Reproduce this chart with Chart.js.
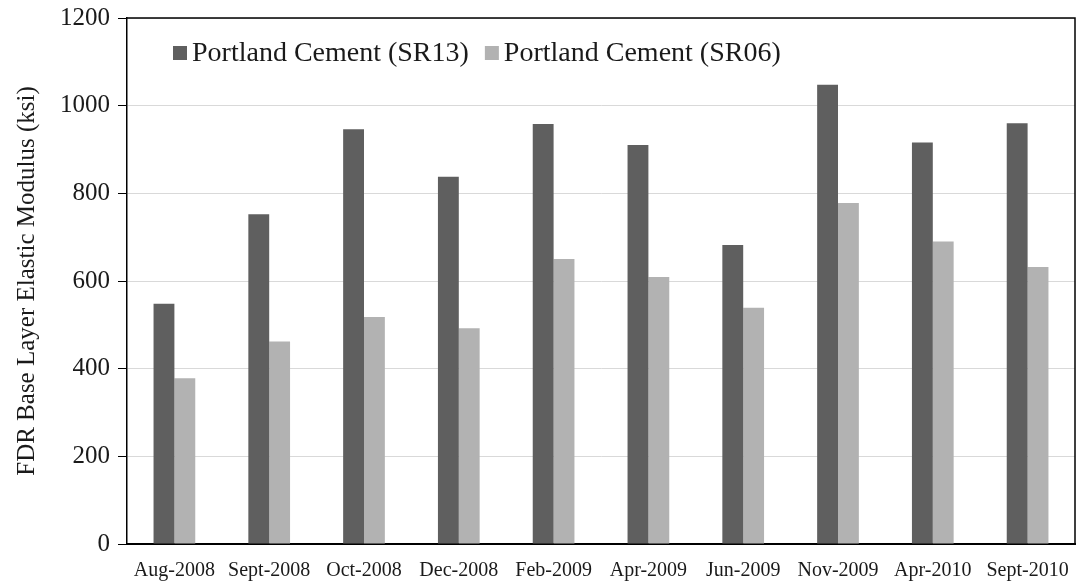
<!DOCTYPE html>
<html>
<head>
<meta charset="utf-8">
<script src="https://cdn.jsdelivr.net/npm/chart.js@4"></script>
<style>
  html, body { margin: 0; padding: 0; background: #fff; }
  #wrap { width: 1083px; height: 582px; }
</style>
</head>
<body>
<div id="wrap"><canvas id="chart" width="1083" height="582"></canvas></div>
<script>
const months = ['Aug-2008', 'Sept-2008', 'Oct-2008', 'Dec-2008', 'Feb-2009', 'Apr-2009', 'Jun-2009', 'Nov-2009', 'Apr-2010', 'Sept-2010'];
const sr13 = [548, 752, 946, 838, 958, 910, 682, 1048, 916, 960];
const sr06 = [378, 462, 518, 492, 650, 609, 539, 778, 690, 632];
const yTicks = [0, 200, 400, 600, 800, 1000, 1200];

const FONT = '"Liberation Serif", "Times New Roman", serif';

// frame round the plot area + legend drawn inside it
const framePlugin = {
  id: 'frame',
  afterDraw(chart) {
    const { ctx, chartArea: a } = chart;
    ctx.save();
    ctx.strokeStyle = '#000';
    ctx.lineWidth = 1.5;
    ctx.beginPath();
    ctx.moveTo(a.left, a.top);
    ctx.lineTo(a.right, a.top);
    ctx.lineTo(a.right, a.bottom);
    ctx.stroke();

    // legend
    ctx.font = '28px ' + FONT;
    ctx.textBaseline = 'middle';
    let x = a.left + 46;
    const y = a.top + 35;
    chart.data.datasets.forEach(ds => {
      ctx.fillStyle = ds.backgroundColor;
      ctx.fillRect(x, y - 7, 14, 14);
      x += 19;
      ctx.fillStyle = '#1a1a1a';
      ctx.fillText(ds.label, x, y + 1);
      x += ctx.measureText(ds.label).width + 16;
    });
    ctx.restore();
  }
};

const ctx = document.getElementById('chart');
const myChart = new Chart(ctx, {
  type: 'bar',
  data: {
    labels: months,
    datasets: [{
      label: 'Portland Cement (SR13)',
      data: sr13,
      backgroundColor: '#5f5f5f',
      barPercentage: 1,
      categoryPercentage: 0.44
    }, {
      label: 'Portland Cement (SR06)',
      data: sr06,
      backgroundColor: '#b2b2b2',
      barPercentage: 1,
      categoryPercentage: 0.44
    }]
  },
  options: {
    responsive: false,
    animation: false,
    layout: { padding: { left: 12, right: 8, top: 0, bottom: 0 } },
    plugins: {
      legend: { display: false },
      tooltip: { enabled: false }
    },
    scales: {
      x: {
        grid: { display: false },
        border: { color: '#000', width: 2 },
        ticks: { color: '#1a1a1a', font: { family: FONT, size: 20 }, maxRotation: 0, autoSkip: false, padding: 7 },
        afterFit(axis) { axis.height = 38; }
      },
      y: {
        min: 0,
        max: 1200,
        afterBuildTicks(axis) { axis.ticks = yTicks.map(v => ({ value: v })); },
        grid: { color: '#d9d9d9', lineWidth: 1, tickColor: '#000', tickLength: 9 },
        border: { color: '#000', width: 1.5 },
        ticks: {
          color: '#1a1a1a',
          font: { family: FONT, size: 25, lineHeight: 0.8 },
          padding: 8,
          callback: v => String(v)
        },
        title: {
          display: true,
          text: 'FDR Base Layer Elastic Modulus (ksi)',
          color: '#1a1a1a',
          font: { family: FONT, size: 25 },
          padding: { top: 0, bottom: 0 }
        },
        afterFit(axis) { axis.width = 115; }
      }
    }
  },
  plugins: [framePlugin]
});
</script>
</body>
</html>
